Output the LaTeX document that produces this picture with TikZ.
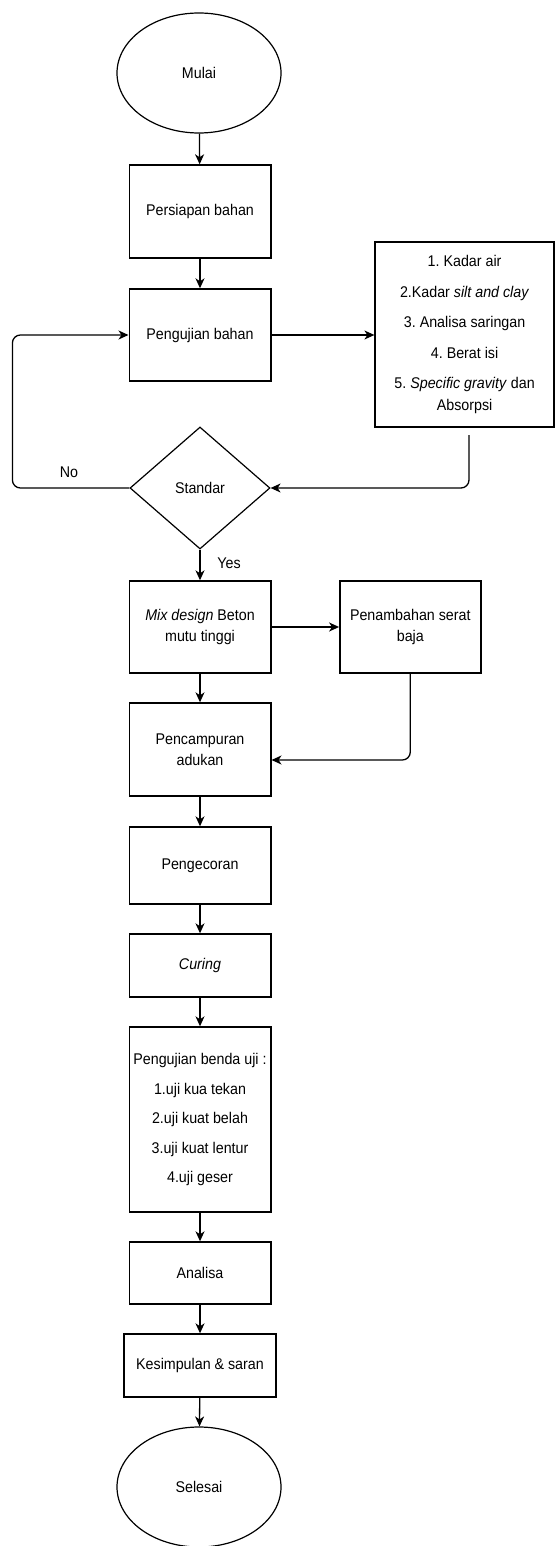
\documentclass[tikz,border=0pt]{standalone}
\usepackage{fontspec}
\setmainfont{Liberation Sans}[FakeStretch=0.92]
\frenchspacing
\usetikzlibrary{arrows.meta,shapes.geometric}
\tikzstyle{block}=[rectangle,draw,line width=1.4pt,align=center,inner sep=2pt]
\tikzstyle{term}=[ellipse,draw,line width=1.2pt,minimum width=164pt,minimum height=120pt]
\tikzstyle{decision}=[diamond,draw,line width=1.2pt,minimum width=140pt,minimum height=122pt,inner sep=0pt]
\tikzstyle{arr} = [draw,line width=1.3pt,-{Stealth[length=10pt,width=9pt,inset=3pt]}]
\tikzstyle{link} = [draw,line width=1.3pt,rounded corners=8pt]
\tikzstyle{tag} = [inner sep=0pt]

\begin{document}
\begin{tikzpicture}[x=1pt,y=-1pt,every node/.style={font=\fontsize{15.5}{21.5}\selectfont}]
    \useasboundingbox (0,0) rectangle (555,1546);
    \node[term] (mulai) at (199,73) {Mulai};
    \node[term] (selesai) at (199,1487) {Selesai};
    \node[decision] (standar) at (200,488) {Standar};
    \foreach \pos/\name/\w/\h/\val in {{(200,211.5)/persiapan/141.6/93/{Persiapan bahan}},
    {(200,335)/pengujian/141.6/92/{Pengujian bahan}},
    {(464.6,334.5)/kadar/179/185/{1. Kadar air\\[9pt]2.Kadar \textit{silt and clay}\\[9pt]3. Analisa saringan\\[9pt]4. Berat isi\\[9pt]5. \textit{Specific gravity} dan\\Absorpsi}},
    {(200,627)/mix/141.6/92/{\textit{Mix design} Beton\\mutu tinggi}},
    {(410.3,627)/serat/141/92/{Penambahan serat\\baja}},
    {(200,749.5)/campur/141.6/93/{Pencampuran\\adukan}},
    {(200,865.5)/cor/141.6/77/{Pengecoran}},
    {(200,965.5)/curing/141.6/63/{\textit{Curing}}},
    {(200,1119.5)/uji/141.6/185/{Pengujian benda uji :\\[8pt]1.uji kua tekan\\[8pt]2.uji kuat belah\\[8pt]3.uji kuat lentur\\[8pt]4.uji geser}},
    {(200,1273)/analisa/141.6/62/{Analisa}},
    {(200,1365.5)/simpul/152.2/63/{Kesimpulan \& saran}}}
        \node[block,minimum width=\w pt,minimum height=\h pt] (\name) at \pos {\val};
    \foreach \source/\dest in {mulai/persiapan,persiapan/pengujian,standar/mix,
    mix/campur,campur/cor,cor/curing,curing/uji,uji/analisa,analisa/simpul,simpul/selesai}
        \path[arr] (\source) -- (\dest);
    \path[arr] (pengujian.east) -- (pengujian.east -| kadar.west);
    \path[arr,line width=2pt] (mix) -- (serat);
    % kembali ke pengujian bila tidak standar
    \coordinate (kadarout) at (469,435);
    \coordinate (loop) at (12.4,411);
    \path[link,arr] (kadarout) |- (standar.east);
    \path[link,arr] (standar.west) -- (standar.west -| loop) -- (pengujian.west -| loop) -- (pengujian.west);
    \path[link,arr] (serat.south) |- ([yshift=-10.5pt]campur.east);
    \node[tag] (no) at (69,472) {No};
    \node[tag] (yes) at (229,563) {Yes};
\end{tikzpicture}
\end{document}
